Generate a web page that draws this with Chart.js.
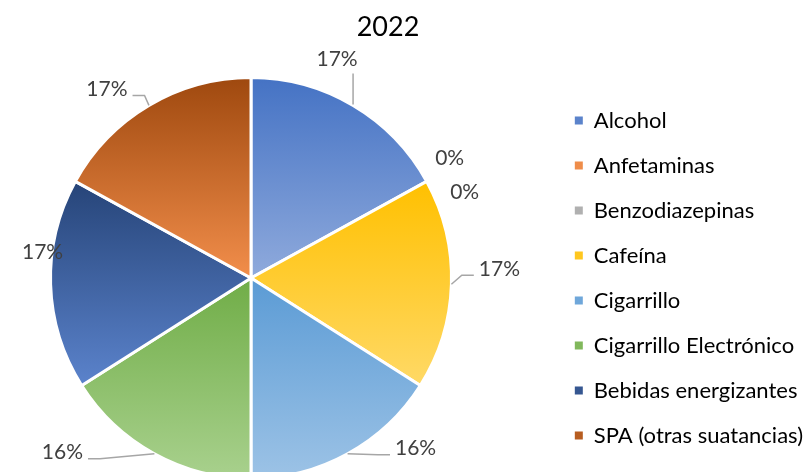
<!DOCTYPE html>
<html>
<head>
<meta charset="utf-8">
<script src="https://cdn.jsdelivr.net/npm/chart.js@4.4.1/dist/chart.umd.min.js"></script>
<style>
  html, body { margin: 0; padding: 0; background: #fff; overflow: hidden; }
  #wrap { width: 805px; height: 490px; }
</style>
</head>
<body>
<div id="wrap"><canvas id="pieChart" width="805" height="490"></canvas></div>
<script>
// Chart data
const chartTitle = '2022';
const substances = [
    'Alcohol',
    'Anfetaminas',
    'Benzodiazepinas',
    'Cafeína',
    'Cigarrillo',
    'Cigarrillo Electrónico',
    'Bebidas energizantes',
    'SPA (otras suatancias)'
];
const shares = [17, 0, 0, 17, 16, 16, 17, 17];

// Each slice fades from a darker top to a lighter bottom
const topColors = ['#4472C4', '#ED7D31', '#A5A5A5', '#FFC000', '#5B9BD5', '#70AD47', '#264478', '#9E480E'];
const bottomColors = ['#8FAADC', '#F4B183', '#C9C9C9', '#FFD966', '#9DC3E6', '#A9D18E', '#5B83CC', '#F28E4B'];

// Where each percentage label sits relative to the slice edge, and how it is tied to it
const labelPlacement = [
    { dx: -16, dy: -46, leader: 'up' },
    { dx: 23, dy: -23, leader: 'none' },
    { dx: 38, dy: 11, leader: 'none' },
    { dx: 48, dy: -15, leader: 'side' },
    { dx: 68, dy: -5, leader: 'side' },
    { dx: -92, dy: -1, leader: 'side' },
    { dx: -8, dy: -32, leader: 'none' },
    { dx: -42, dy: -16, leader: 'side' }
];

const FONT = 'Lato, "Open Sans", sans-serif';
const total = shares.reduce((a, b) => a + b, 0);

function mix(c1, c2, t) {
    const a = parseInt(c1.slice(1), 16), b = parseInt(c2.slice(1), 16);
    const ch = s => Math.round(((a >> s) & 255) * (1 - t) + ((b >> s) & 255) * t);
    return `rgb(${ch(16)}, ${ch(8)}, ${ch(0)})`;
}
const legendColors = topColors.map((c, i) => mix(c, bottomColors[i], 0.3));

// Vertical gradient spanning the slice's own height
function sliceGradient(context) {
    const chart = context.chart;
    const area = chart.chartArea;
    const i = context.dataIndex;
    if (!area || i === undefined) return topColors[0];
    const cx = (area.left + area.right) / 2;
    const cy = (area.top + area.bottom) / 2;
    const r = Math.min(area.width, area.height) / 2;
    const before = shares.slice(0, i).reduce((a, b) => a + b, 0);
    const a0 = before / total * 2 * Math.PI - Math.PI / 2;
    const a1 = (before + shares[i]) / total * 2 * Math.PI - Math.PI / 2;
    const ys = [cy, cy + r * Math.sin(a0), cy + r * Math.sin(a1)];
    [Math.PI / 2, 3 * Math.PI / 2].forEach(k => {
        if (k > a0 && k < a1) ys.push(cy + r * Math.sin(k));
    });
    const y0 = Math.min(...ys), y1 = Math.max(...ys);
    const g = chart.ctx.createLinearGradient(0, y0, 0, Math.max(y1, y0 + 1));
    g.addColorStop(0, topColors[i]);
    g.addColorStop(1, bottomColors[i]);
    return g;
}

// Keep the pie's box square so it sits at the left, away from the legend
const squarePie = {
    id: 'squarePie',
    afterLayout(chart) {
        const a = chart.chartArea;
        a.right = a.left + a.height;
        a.width = a.height;
    }
};

// Percentage labels with leader lines, plus the title
const sliceLabels = {
    id: 'sliceLabels',
    afterDatasetsDraw(chart) {
        const ctx = chart.ctx;
        const meta = chart.getDatasetMeta(0);
        ctx.save();
        ctx.font = `21px ${FONT}`;
        ctx.textAlign = 'center';
        ctx.textBaseline = 'middle';
        meta.data.forEach((arc, i) => {
            const { x, y, startAngle, endAngle, outerRadius } =
                arc.getProps(['x', 'y', 'startAngle', 'endAngle', 'outerRadius'], true);
            const mid = (startAngle + endAngle) / 2;
            const ax = x + Math.cos(mid) * outerRadius;
            const ay = y + Math.sin(mid) * outerRadius;
            const place = labelPlacement[i];
            const tx = ax + place.dx, ty = ay + place.dy;
            const text = Math.round(shares[i] / total * 100) + '%';
            const w = ctx.measureText(text).width;

            ctx.strokeStyle = '#A6A6A6';
            ctx.lineWidth = 1.5;
            ctx.beginPath();
            if (place.leader === 'side') {
                const dir = Math.sign(place.dx);
                const endX = tx - dir * (w / 2 + 5);
                const lineY = ty + 6;
                ctx.moveTo(ax, ay);
                ctx.lineTo(endX - dir * 12, lineY);
                ctx.lineTo(endX, lineY);
                ctx.stroke();
            } else if (place.leader === 'up') {
                ctx.moveTo(ax, ay - 1);
                ctx.lineTo(ax, ty + 14);
                ctx.stroke();
            }
            ctx.fillStyle = '#404040';
            ctx.fillText(text, tx, ty);
        });

        ctx.font = `27px ${FONT}`;
        ctx.fillStyle = '#000000';
        ctx.fillText(chartTitle, 388, 27);
        ctx.restore();
    }
};

const ctx = document.getElementById('pieChart').getContext('2d');

const pieChart = new Chart(ctx, {
    type: 'pie',
    data: {
        labels: substances,
        datasets: [{
            data: shares,
            backgroundColor: sliceGradient,
            borderColor: '#FFFFFF',
            borderWidth: 3
        }]
    },
    options: {
        responsive: false,
        animation: false,
        events: [],
        layout: {
            padding: { top: 76, bottom: 10, left: 49, right: -8 }
        },
        plugins: {
            tooltip: { enabled: false },
            legend: {
                position: 'right',
                align: 'center',
                labels: {
                    font: { family: FONT, size: 22 },
                    color: '#595959',
                    boxWidth: 8,
                    boxHeight: 8,
                    padding: 23,
                    generateLabels: () => substances.map((name, i) => ({
                        text: name,
                        fillStyle: legendColors[i],
                        strokeStyle: legendColors[i],
                        lineWidth: 0,
                        hidden: false,
                        index: i
                    }))
                }
            }
        }
    },
    plugins: [squarePie, sliceLabels]
});
</script>
</body>
</html>
